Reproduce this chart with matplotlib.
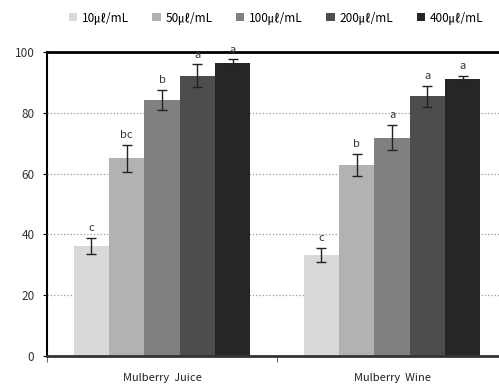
import numpy as np
import matplotlib
matplotlib.use('Agg')
import matplotlib.pyplot as plt

plt.rcParams['font.family'] = ['Noto Sans CJK KR', 'DejaVu Sans']

# Survival (%) by sample and concentration
samples = ['Mulberry  Juice', 'Mulberry  Wine']
doses = ['10㎕/mL', '50㎕/mL', '100㎕/mL', '200㎕/mL', '400㎕/mL']
juice = [36.2, 65.0, 84.2, 92.2, 96.3]
wine = [33.2, 62.9, 71.8, 85.4, 91.0]
juice_err = [2.6, 4.4, 3.4, 3.7, 1.3]
wine_err = [2.4, 3.6, 4.2, 3.5, 1.1]
juice_sig = ['c', 'bc', 'b', 'a', 'a']
wine_sig = ['c', 'b', 'a', 'a', 'a']

colors = ['#d9d9d9', '#b2b2b2', '#808080', '#4d4d4d', '#262626']

fig = plt.figure(figsize=(4.99, 3.90), dpi=100)
ax = fig.add_axes([0.094, 0.0872, 0.906, 0.7795])

vals = np.array([juice, wine])
errs = np.array([juice_err, wine_err])
sigs = [juice_sig, wine_sig]
x = np.arange(len(samples))
w = 0.1535

for i in range(len(doses)):
    pos = x + (i - 2) * w
    ax.bar(pos, vals[:, i], w, color=colors[i], label=doses[i], zorder=2)
    ax.errorbar(pos, vals[:, i], yerr=errs[:, i], fmt='none', ecolor='#222222',
                elinewidth=1.0, capsize=3.5, capthick=1.0, zorder=3)
    for j in range(len(samples)):
        ax.text(pos[j], vals[j, i] + errs[j, i] + 1.5, sigs[j][i],
                ha='center', va='bottom', fontsize=8, color='#333333')

ax.set_xlim(-0.5, 1.465)
ax.set_ylim(0, 100)
ax.set_yticks([0, 20, 40, 60, 80, 100])
ax.set_xticks(x)
ax.set_xticklabels(samples, fontsize=8, color='#222222')
ax.set_xticks([-0.5, 0.5], minor=True)
ax.tick_params(axis='x', which='major', length=0, pad=12)
ax.tick_params(axis='x', which='minor', length=4, color='#444444')
ax.tick_params(axis='y', labelsize=8.5, labelcolor='#333333', length=3, pad=6)

ax.yaxis.grid(True, linestyle=':', color='#999999', linewidth=0.9, zorder=0)
ax.set_axisbelow(True)

ax.spines['right'].set_visible(False)
ax.spines['top'].set_linewidth(2.0)
ax.spines['top'].set_color('black')
ax.spines['left'].set_linewidth(1.5)
ax.spines['left'].set_color('black')
ax.spines['bottom'].set_linewidth(2.0)
ax.spines['bottom'].set_color('#333333')

ax.legend(loc='center', bbox_to_anchor=(0.553, 0.955), bbox_transform=fig.transFigure,
          ncol=5, frameon=False, fontsize=8.5, handlelength=0.7, handleheight=0.7,
          handletextpad=0.4, columnspacing=2.0)

fig.savefig('out.png', dpi=100)
